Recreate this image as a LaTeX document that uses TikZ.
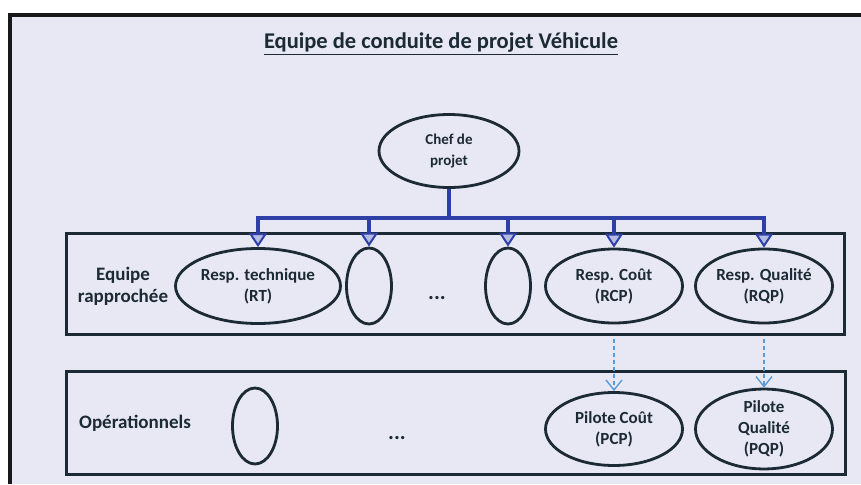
\documentclass[tikz,border=0pt]{standalone}
\usepackage{fontspec}
\setmainfont{Carlito}
\usetikzlibrary{shapes.geometric,arrows.meta}
\definecolor{bg}{HTML}{E7E8F3}
\definecolor{ink}{HTML}{1B2A34}
\definecolor{busblue}{HTML}{2F3FA8}
\definecolor{dashblue}{HTML}{5A9AD6}
\tikzset{
  lbl/.style={font=\bfseries\fontsize{17}{21}\selectfont, text=ink, align=center},
  ell/.style={ellipse, draw=ink, line width=2.8pt, inner sep=0pt, lbl},
  big/.style={ell, minimum width=137pt, minimum height=74pt},
  thin/.style={ell, minimum width=45pt, minimum height=76pt},
  boxframe/.style={draw=ink, line width=3pt, inner sep=0pt},
  sidelbl/.style={lbl, font=\bfseries\fontsize{19}{22}\selectfont},
  dotlbl/.style={lbl, font=\bfseries\fontsize{22}{22}\selectfont},
  busline/.style={draw=busblue, line width=3.2pt},
  busarrow/.style={busline, -{Triangle[open, width=18pt, length=14pt, line width=2pt, fill=busblue!35]}},
  dasharrow/.style={draw=dashblue, line width=1.6pt, dash pattern=on 4pt off 3pt, -{Straight Barb[width=16pt, length=10pt, line width=1.4pt]}},
}
\begin{document}
\begin{tikzpicture}[x=1pt, y=-1pt]
\useasboundingbox (0,0) rectangle (861,484);
\fill[white] (0,0) rectangle (861,484);
\fill[bg] (10,15) rectangle (861,484);
\draw[line width=4pt, black!90] (10,484) -- (10,15) -- (861,15);
% title
\node[font=\bfseries\fontsize{22.5}{24}\selectfont, text=ink] (title) at (441,44) {\underline{Equipe de conduite de projet Véhicule}};
% boxes
\node[boxframe, minimum width=778pt, minimum height=101pt] (upbox) at (455,283.5) {};
\node[boxframe, minimum width=779pt, minimum height=103pt] (lowbox) at (455.5,422.5) {};
% labels
\node[sidelbl] (eqr) at (123,286) {Equipe\\rapprochée};
\node[sidelbl] (ops) at (135,423) {Opérationnels};
% chef
\node[ell, font=\bfseries\fontsize{15}{21}\selectfont, minimum width=140pt, minimum height=73pt] (chef) at (449,151) {Chef de\\projet};
% upper row
\node[big, minimum width=165pt, minimum height=75pt] (rt) at (258,286) {Resp. technique\\(RT)};
\node[thin] (e1) at (369,286) {};
\node[dotlbl] (dots1) at (437,298) {...};
\node[thin] (e2) at (508,286) {};
\node[big] (rcp) at (614,286) {Resp. Coût\\(RCP)};
\node[big] (rqp) at (764,286) {Resp. Qualité\\(RQP)};
% lower row
\node[thin] (e3) at (255,426) {};
\node[dotlbl] (dots2) at (397,438) {...};
\node[big, minimum height=73pt] (pcp) at (614,429) {Pilote Coût\\(PCP)};
\node[big, minimum height=73pt] (pqp) at (764,429) {Pilote\\Qualité\\(PQP)};
% bus
\coordinate (busL) at (258,218);
\coordinate (busR) at (764,218);
\draw[busline] (chef.south) -- (chef.south |- busL);
\draw[busline] ([xshift=-1.6pt]busL) -- ([xshift=1.6pt]busR);
\foreach \n in {rt,e1,e2,rcp,rqp}{
  \draw[busarrow] (\n.north |- busL) -- (\n.north);
}
% dashed
\draw[dasharrow] ([yshift=-3pt]rcp.south |- upbox.south) -- (pcp.north);
\draw[dasharrow] ([yshift=-3pt]rqp.south |- upbox.south) -- (pqp.north);
\end{tikzpicture}
\end{document}
